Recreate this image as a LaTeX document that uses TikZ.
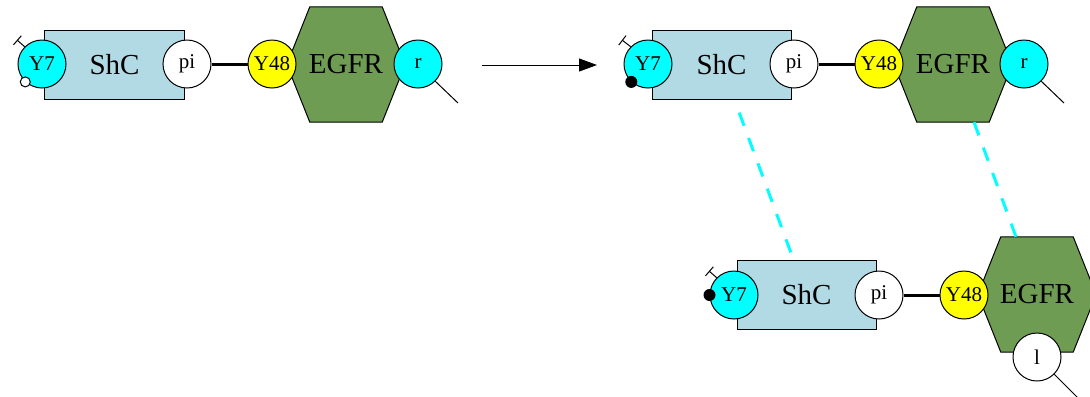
\documentclass[tikz,border=0pt]{standalone}
\usepackage{fontspec}
\setmainfont{Liberation Serif}
\usetikzlibrary{arrows.meta}
\pgfdeclarelayer{bg}
\pgfsetlayers{bg,main}
\definecolor{shcblue}{RGB}{178,218,229}
\definecolor{egfrgreen}{RGB}{110,156,82}
\definecolor{sitecyan}{RGB}{0,255,255}
\definecolor{siteyellow}{RGB}{255,255,0}
\newcommand\bigfnt{\fontsize{29bp}{31bp}\selectfont}
\newcommand\sitefnt{\fontsize{21bp}{23bp}\selectfont}
\newcommand\hexat[1]{%
  \draw[hexdraw] (#1.west) -- ([xshift=23bp]#1.north west) -- ([xshift=-23bp]#1.north east)
    -- (#1.east) -- ([xshift=-23bp]#1.south east) -- ([xshift=23bp]#1.south west) -- cycle;}
\tikzset{
  site/.style={circle, draw, line width=1bp, minimum size=48bp, inner sep=0pt, font=\sitefnt},
  cyansite/.style={site, fill=sitecyan},
  yellowsite/.style={site, fill=siteyellow},
  whitesite/.style={site, fill=white},
  protbox/.style={rectangle, draw, line width=1bp, fill=shcblue, minimum width=139bp, minimum height=69bp, inner sep=0pt, font=\bigfnt},
  hexnode/.style={rectangle, minimum width=118bp, minimum height=115bp, inner sep=0pt, font=\bigfnt},
  hexdraw/.style={draw, line width=1bp, fill=egfrgreen, line join=miter},
  bond/.style={line width=3bp},
  tbar/.style={line width=1bp, -{Bar[width=12bp, line width=1bp]}},
  tail/.style={line width=1bp},
  blackdot/.style={circle, fill=black, minimum size=12bp, inner sep=0pt},
  whitedot/.style={circle, draw, line width=1bp, fill=white, minimum size=10bp, inner sep=0pt},
  bindline/.style={sitecyan, line width=3bp, dash pattern=on 14bp off 13bp},
  transition/.style={line width=1bp, -{Triangle[length=18bp, width=13bp]}}
}
\begin{document}
\begin{tikzpicture}[x=1bp, y=-1bp]
\useasboundingbox (0,0) rectangle (1090,396);

% ---------- group A (left) ----------
\node[protbox] (shc1) at (114.5,64.5) {ShC};
\node[hexnode] (egfr1) at (346,64.5) {EGFR};
\begin{pgfonlayer}{bg}\hexat{egfr1}\end{pgfonlayer}
\node[cyansite] (y7a) at (42,64) {Y7};
\node[whitesite] (pi1) at (187,64) {pi};
\node[yellowsite] (y48a) at (272,64) {Y48};
\node[cyansite] (r1) at (418,64) {r};
\node[whitedot] (st1) at (y7a.227) {};
\coordinate (tb1) at (17,40);
\coordinate (rt1) at (458,103);
\draw[tbar] (y7a.135) -- (tb1);
\draw[bond] (pi1) -- (y48a);
\draw[tail] (r1.-45) -- (rt1);

% ---------- transition arrow ----------
\coordinate (arrS) at (482,65);
\coordinate (arrE) at (597,65);
\draw[transition] (arrS) -- (arrE);

% ---------- group B (right top) ----------
\node[protbox] (shc2) at (721.5,64.5) {ShC};
\node[hexnode] (egfr2) at (953,64.5) {EGFR};
\begin{pgfonlayer}{bg}\hexat{egfr2}\end{pgfonlayer}
\node[cyansite] (y7b) at (648,64) {Y7};
\node[whitesite] (pi2) at (794,64) {pi};
\node[yellowsite] (y48b) at (879,64) {Y48};
\node[cyansite] (r2) at (1024,64) {r};
\node[blackdot] (st2) at (y7b.227) {};
\coordinate (tb2) at (622,40);
\coordinate (rt2) at (1064,103);
\draw[tbar] (y7b.135) -- (tb2);
\draw[bond] (pi2) -- (y48b);
\draw[tail] (r2.-45) -- (rt2);

% ---------- group C (right bottom) ----------
\node[protbox] (shc3) at (806.5,295) {ShC};
\node[hexnode] (egfr3) at (1037,294.5) {EGFR};
\begin{pgfonlayer}{bg}\hexat{egfr3}\end{pgfonlayer}
\node[cyansite] (y7c) at (734,295) {Y7};
\node[whitesite] (pi3) at (879,295) {pi};
\node[yellowsite] (y48c) at (964,295) {Y48};
\node[whitesite] (l3) at (1037,357) {l};
\node[blackdot] (st3) at (y7c.180) {};
\coordinate (tb3) at (709,271);
\coordinate (lt3) at (1078,398);
\draw[tbar] (y7c.135) -- (tb3);
\draw[bond] (pi3) -- (y48c);
\draw[tail] (l3.-45) -- (lt3);

% ---------- binding lines ----------
\draw[bindline, shorten <=14bp] (shc2) -- (shc3);
\draw[bindline] (egfr2) -- (egfr3);
\end{tikzpicture}
\end{document}
